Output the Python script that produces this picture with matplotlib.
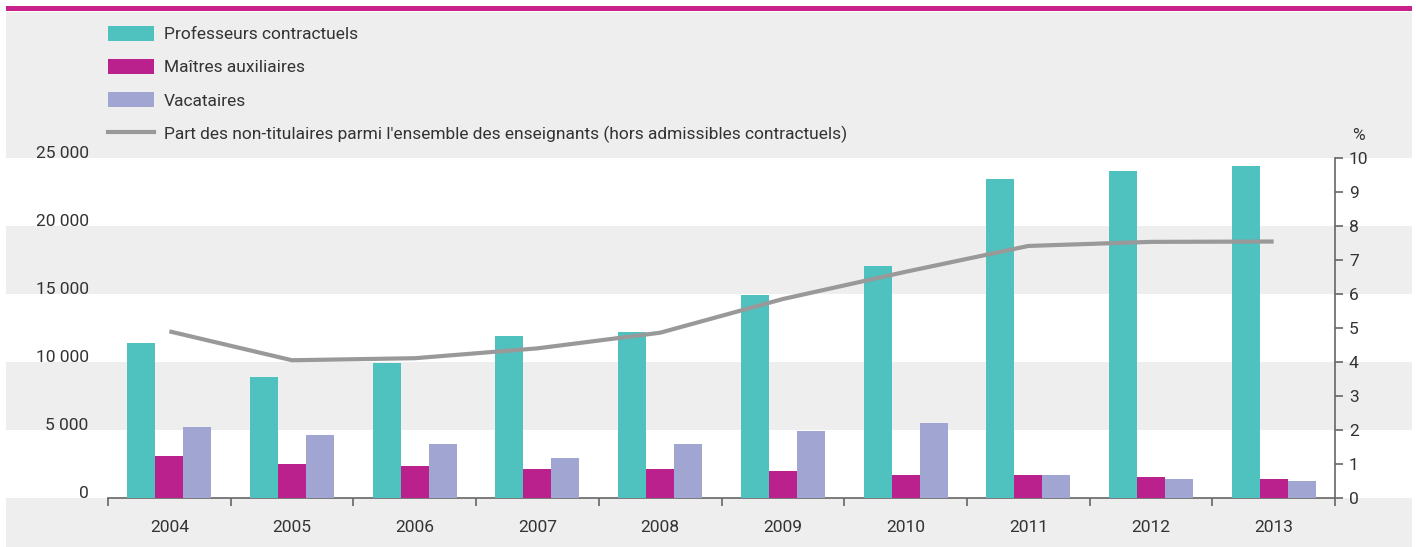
import matplotlib
matplotlib.use('Agg')
import matplotlib.pyplot as plt
import matplotlib.transforms as mtransforms
from matplotlib.patches import Rectangle, Patch
from matplotlib.lines import Line2D
import numpy as np

# --- data ---
years = ['2004', '2005', '2006', '2007', '2008', '2009', '2010', '2011', '2012', '2013']
professeurs = [11400, 8860, 9890, 11870, 12170, 14880, 17010, 23400, 23990, 24350]
maitres = [3050, 2470, 2330, 2100, 2100, 1950, 1670, 1670, 1500, 1370]
vacataires = [5200, 4600, 3930, 2900, 3940, 4900, 5480, 1650, 1350, 1230]
part_non_tit = [4.89, 4.04, 4.10, 4.39, 4.85, 5.84, 6.64, 7.40, 7.52, 7.53]

labels = ['Professeurs contractuels', 'Maîtres auxiliaires', 'Vacataires',
          "Part des non-titulaires parmi l'ensemble des enseignants (hors admissibles contractuels)"]
left_ticks = [0, 5000, 10000, 15000, 20000, 25000]
left_ticklabels = ['0', '5 000', '10 000', '15 000', '20 000', '25 000']

TEAL = '#4fc1bf'
MAGENTA = '#bb218d'
LAVENDER = '#a1a5d1'
LINE_GREY = '#999999'
BG = '#eeeeee'
TXT = '#333333'
AXC = '#666666'

plt.rcParams['font.family'] = ['Roboto', 'DejaVu Sans']
plt.rcParams['text.color'] = TXT
FS = 12.5

W, H = 1416, 547
fig = plt.figure(figsize=(W / 100, H / 100), dpi=100)
fig.patch.set_facecolor('white')

ax = fig.add_axes([108 / W, 1 - 497.7 / H, (1335 - 108) / W, (497.7 - 157.5) / H])
ax.set_facecolor('none')
ax2 = ax.twinx()

x = np.arange(len(years))
bw = 0.228
ax.bar(x - bw, professeurs, bw, color=TEAL, zorder=3)
ax.bar(x, maitres, bw, color=MAGENTA, zorder=3)
ax.bar(x + bw, vacataires, bw, color=LAVENDER, zorder=3)
ax2.plot(x, part_non_tit, color=LINE_GREY, lw=3, zorder=4, solid_capstyle='butt')

ax.set_xlim(-0.5, len(years) - 0.5)
ax.set_ylim(0, 25000)
ax2.set_ylim(0, 10)

# background bands spanning the whole width, aligned to left-axis values
x0f, x1f = 6 / W, 1412 / W
bt = mtransforms.blended_transform_factory(fig.transFigure, ax.transData)
fig.patches.append(Rectangle((x0f, 0), x1f - x0f, 1 - 12 / H, transform=fig.transFigure,
                             facecolor=BG, edgecolor='none', zorder=-10))
for lo in [0, 10000, 20000]:
    fig.patches.append(Rectangle((x0f, lo), x1f - x0f, 5000, transform=bt,
                                 facecolor='white', edgecolor='none', zorder=-9))
# magenta rule on top
fig.patches.append(Rectangle((x0f, 1 - 11 / H), x1f - x0f, 5 / H, transform=fig.transFigure,
                             facecolor='#c9218b', edgecolor='none', zorder=-8))

for a in (ax, ax2):
    a.spines['top'].set_visible(False)
    a.spines['left'].set_visible(False)
ax.spines['right'].set_visible(False)
ax.spines['bottom'].set_color(AXC)
ax.spines['bottom'].set_linewidth(1.2)
ax2.spines['bottom'].set_visible(False)
ax2.spines['right'].set_color(AXC)
ax2.spines['right'].set_linewidth(1.2)

# x ticks: labels at centers, tick marks at boundaries
ax.set_xticks(x)
ax.set_xticklabels(years, fontsize=FS, color=TXT)
ax.set_xticks(np.arange(-0.5, len(years)), minor=True)
ax.tick_params(axis='x', which='major', length=0, pad=16)
ax.tick_params(axis='x', which='minor', length=6, width=1.2, color=AXC)

ax.set_yticks(left_ticks)
ax.set_yticklabels(left_ticklabels, fontsize=FS, color=TXT)
ax.tick_params(axis='y', length=0, pad=14)
shift = mtransforms.ScaledTranslation(0, 6 / 100, fig.dpi_scale_trans)
for lab in ax.get_yticklabels():
    lab.set_transform(lab.get_transform() + shift)

ax2.set_yticks(range(0, 11))
ax2.tick_params(axis='y', length=6, width=1.2, color=AXC, pad=4, labelsize=FS, labelcolor=TXT)
fig.text(1358 / W, 1 - 135 / H, '%', fontsize=FS, ha='center', va='center', color=TXT)

handles = [Patch(facecolor=TEAL), Patch(facecolor=MAGENTA), Patch(facecolor=LAVENDER),
           Line2D([], [], color=LINE_GREY, lw=3)]
fig.legend(handles, labels, loc='upper left', bbox_to_anchor=(108 / W, 1 - 26 / H),
           frameon=False, fontsize=FS, handlelength=2.65, handleheight=0.92,
           handletextpad=0.58, labelspacing=0.97, borderpad=0, borderaxespad=0)

fig.savefig('out.png', dpi=100)
